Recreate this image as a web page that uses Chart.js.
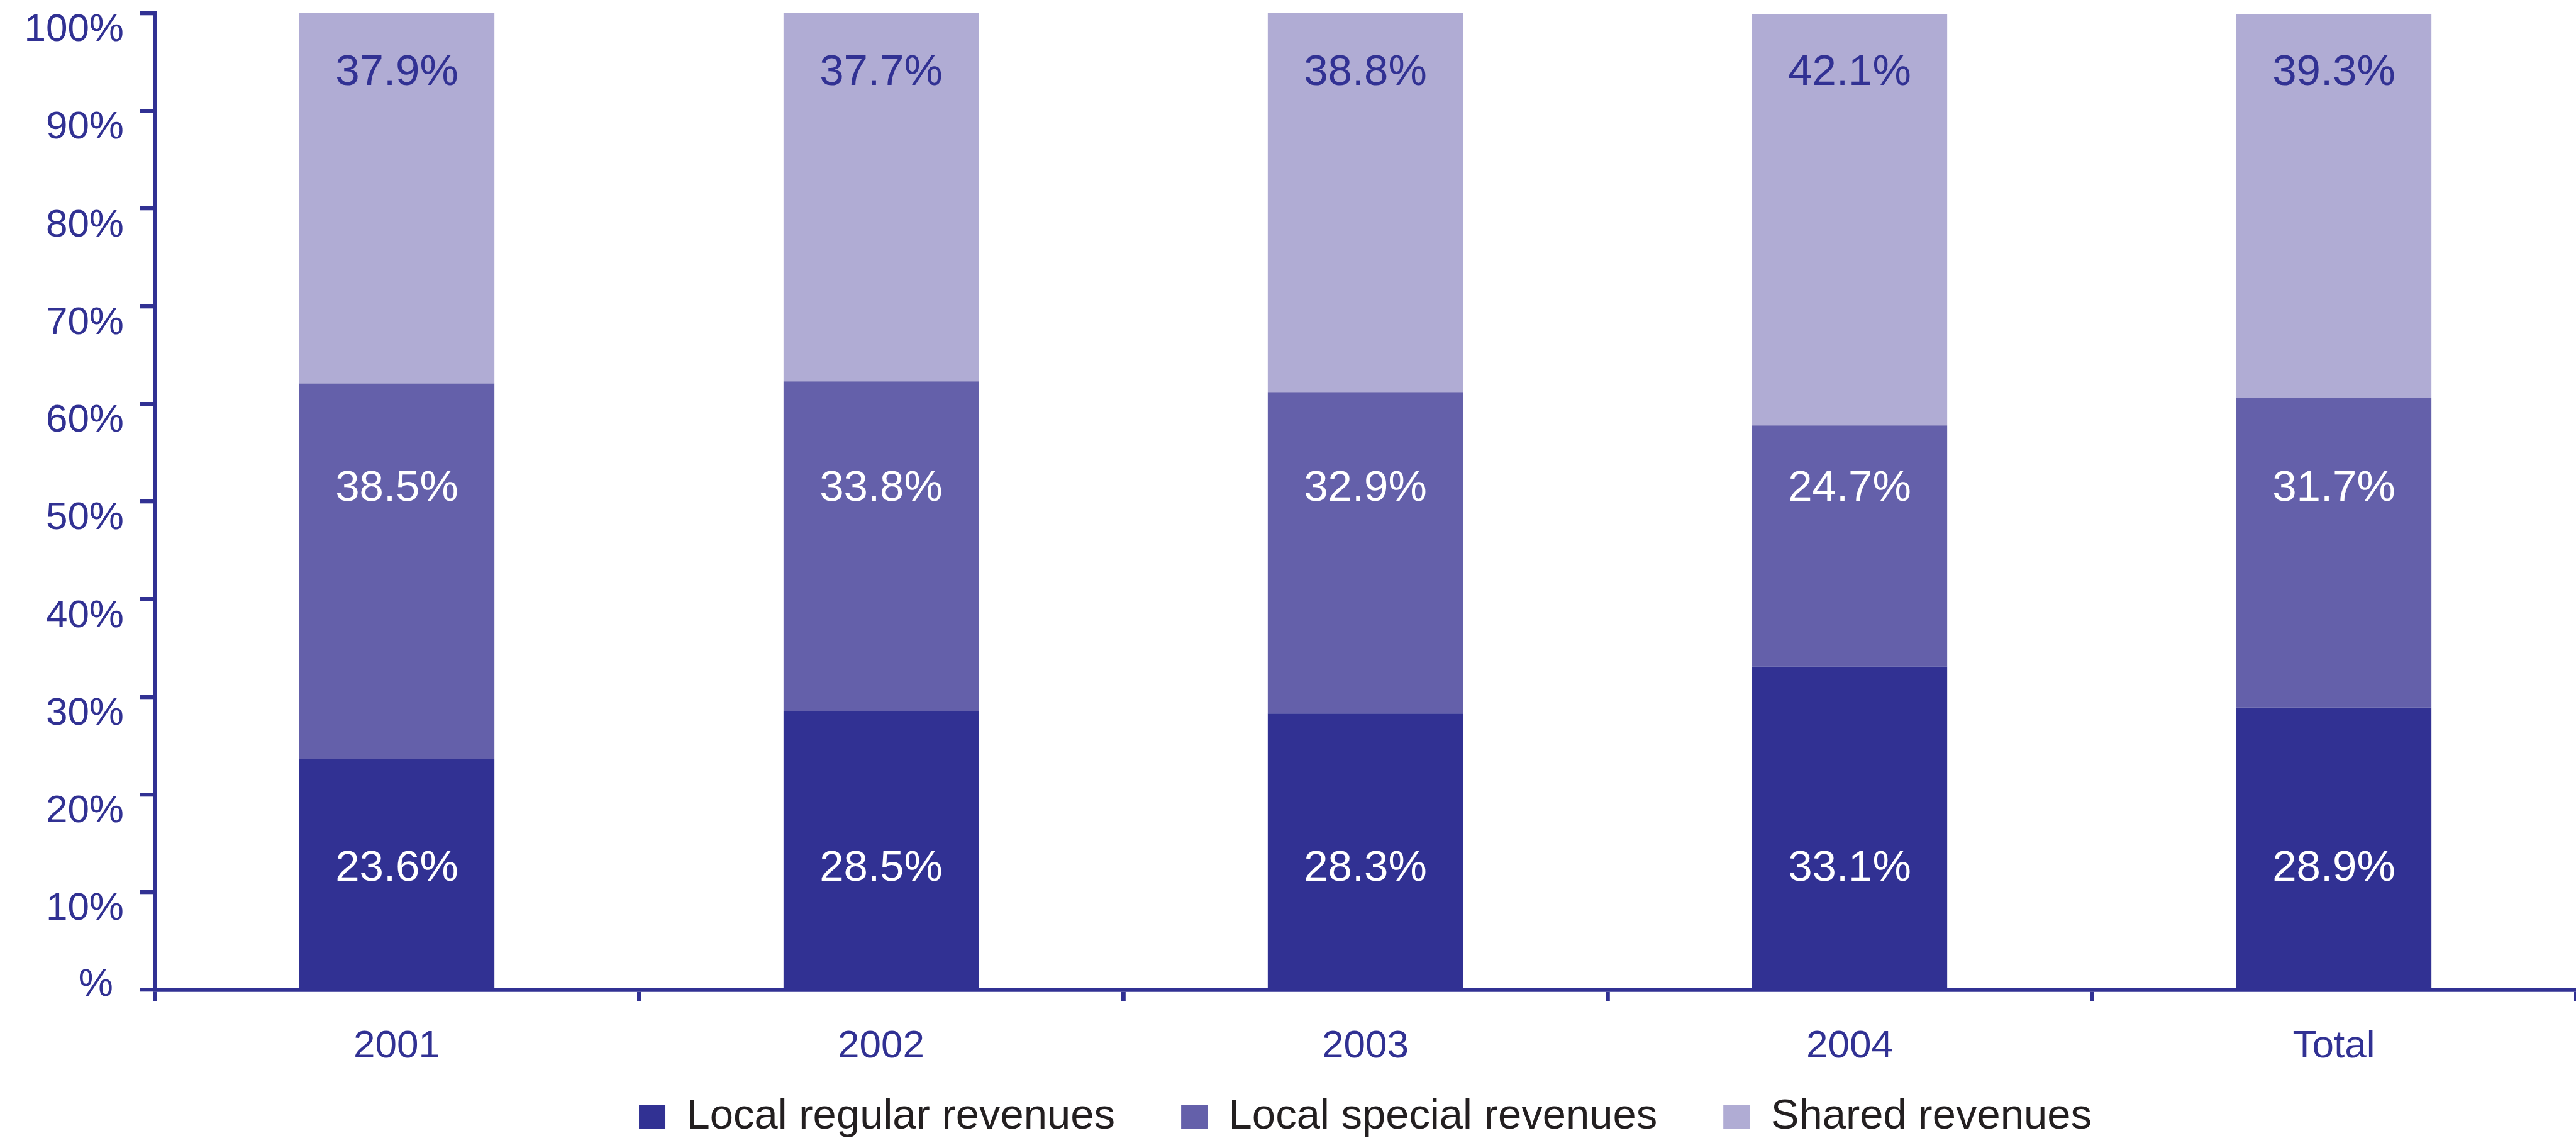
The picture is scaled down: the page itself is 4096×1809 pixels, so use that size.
<!DOCTYPE html>
<html>
<head>
<meta charset="utf-8">
<title>Revenue structure 2001-2004</title>
<script src="https://cdn.jsdelivr.net/npm/chart.js@4.4.1/dist/chart.umd.min.js"></script>
<style>
  html, body { margin: 0; padding: 0; background: #fff; }
  #wrap { width: 4096px; height: 1809px; }
</style>
</head>
<body>
<div id="wrap"><canvas id="chart"></canvas></div>
<script>
// values
var years = ['2001', '2002', '2003', '2004', 'Total'];
var localRegular = [23.6, 28.5, 28.3, 33.1, 28.9];
var localSpecial = [38.5, 33.8, 32.9, 24.7, 31.7];
var sharedRevenues = [37.9, 37.7, 38.8, 42.1, 39.3];
var seriesNames = ['Local regular revenues', 'Local special revenues', 'Shared revenues'];
var yTickLabels = ['% ', '10%', '20%', '30%', '40%', '50%', '60%', '70%', '80%', '90%', '100%'];

// look
var navy = '#313193';
var barColors = ['#313193', '#6460AA', '#B0ACD4'];
var labelColors = ['#ffffff', '#ffffff', '#313193'];
var fontFamily = '"Liberation Sans", Arial, Helvetica, sans-serif';

// the value labels sit on three fixed rows, not in the middle of each piece
var labelRows = [12.4, 51.3, 93.9];

var barLabels = {
  id: 'barLabels',
  afterDatasetsDraw: function (chart) {
    var ctx = chart.ctx;
    var yScale = chart.scales.y;
    ctx.save();
    ctx.font = '69px ' + fontFamily;
    ctx.textAlign = 'center';
    ctx.textBaseline = 'middle';
    chart.data.datasets.forEach(function (ds, i) {
      var meta = chart.getDatasetMeta(i);
      ctx.fillStyle = labelColors[i];
      meta.data.forEach(function (bar, j) {
        ctx.fillText(ds.data[j].toFixed(1) + '%', bar.x, yScale.getPixelForValue(labelRows[i]));
      });
    });
    ctx.restore();
  }
};

var allSeries = [localRegular, localSpecial, sharedRevenues];

var chart = new Chart(document.getElementById('chart'), {
  type: 'bar',
  data: {
    labels: years,
    datasets: allSeries.map(function (values, i) {
      return {
        label: seriesNames[i],
        data: values,
        backgroundColor: barColors[i],
        borderWidth: 0,
        barPercentage: 0.403,
        categoryPercentage: 1
      };
    })
  },
  options: {
    responsive: true,
    maintainAspectRatio: false,
    devicePixelRatio: 1,
    animation: false,
    layout: { padding: { top: 21, left: 0, right: 0, bottom: -10 } },
    plugins: {
      tooltip: { enabled: false },
      legend: {
        position: 'bottom',
        fullSize: false,
        labels: {
          color: '#231F20',
          font: { family: fontFamily, size: 67 },
          boxWidth: 42,
          boxHeight: 37,
          padding: 105
        }
      }
    },
    scales: {
      x: {
        stacked: true,
        grid: {
          offset: true,
          drawOnChartArea: false,
          drawTicks: true,
          tickLength: 18,
          lineWidth: 6.8,
          color: navy
        },
        border: { display: true, color: navy, width: 6.8 },
        ticks: {
          color: navy,
          // mirror keeps the labels from being clipped to the short axis box;
          // mirrored labels go the other way, hence the negative padding
          mirror: true,
          padding: -128,
          font: { family: fontFamily, size: 62 }
        },
        afterFit: function (scale) {
          scale.height = 63.5;
          scale.paddingLeft = 0;
          scale.paddingRight = 0;
        }
      },
      y: {
        stacked: true,
        min: 0,
        max: 100,
        grid: {
          drawOnChartArea: false,
          drawTicks: true,
          tickLength: 23,
          lineWidth: 6.3,
          color: navy
        },
        border: { display: true, color: navy, width: 6.8 },
        ticks: {
          stepSize: 10,
          color: navy,
          padding: 26,
          labelOffset: 27,
          font: { family: fontFamily, size: 62, lineHeight: 1.1 },
          callback: function (value, index) {
            // the zero label is just "%", pushed up a line so it sits on the axis
            if (index === 0) { return [yTickLabels[0], '']; }
            return yTickLabels[index];
          }
        },
        afterFit: function (scale) {
          scale.width = 246;
          scale.paddingTop = 0;
          scale.paddingBottom = 0;
        }
      }
    }
  },
  plugins: [barLabels]
});
</script>
</body>
</html>
